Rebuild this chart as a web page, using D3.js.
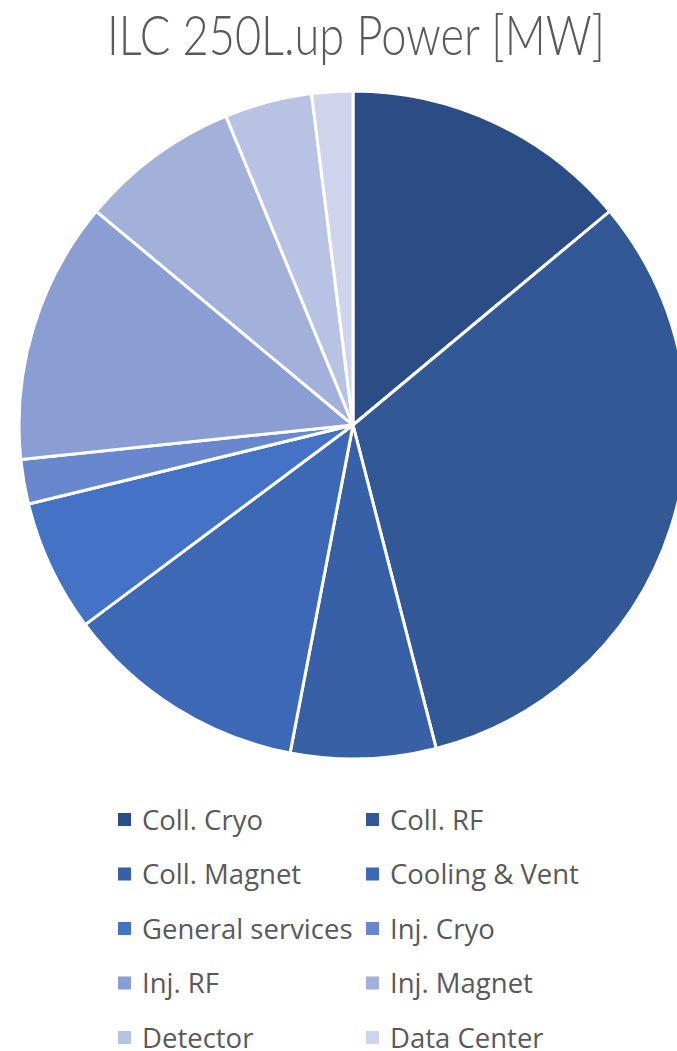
<!DOCTYPE html>
<html>
<head>
<meta charset="utf-8">
<script src="https://cdn.jsdelivr.net/npm/d3@7"></script>
<style>
  html, body { margin: 0; padding: 0; background: #fff; }
  svg { display: block; }
</style>
</head>
<body>
<svg id="chart" width="677" height="1051"></svg>
<script>
// ILC 250 GeV upgrade power budget, in MW
const categories = [
  "Coll. Cryo", "Coll. RF", "Coll. Magnet", "Cooling & Vent", "General services",
  "Inj. Cryo", "Inj. RF", "Inj. Magnet", "Detector", "Data Center"
];
const powerMW = [15.5, 35.6, 7.8, 13.1, 7.1, 2.4, 14.1, 8.6, 4.7, 2.2];
const sliceColors = [
  "#2c4c85", "#335896", "#3760a7", "#3c68b6", "#4472c4",
  "#6887cc", "#8a9ed4", "#a2b0da", "#b8c3e3", "#cdd4ec"
];
const titleText = "ILC 250L.up Power [MW]";

const svg = d3.select("#chart");
const textColor = "#595959";

// Title
svg.append("text")
  .attr("x", 356)
  .attr("y", 55)
  .attr("text-anchor", "middle")
  .attr("font-family", "Lato, 'Open Sans', sans-serif")
  .attr("font-weight", 300)
  .attr("font-size", 56)
  .attr("fill", textColor)
  .attr("textLength", 498)
  .attr("lengthAdjust", "spacingAndGlyphs")
  .text(titleText);

// Pie
const cx = 353, cy = 425, radius = 334;
const data = categories.map((c, i) => ({ name: c, value: powerMW[i] }));
const pie = d3.pie().sort(null).value(d => d.value);
const arc = d3.arc().innerRadius(0).outerRadius(radius);
const color = d3.scaleOrdinal().domain(categories).range(sliceColors);

svg.append("g")
  .attr("transform", `translate(${cx},${cy})`)
  .selectAll("path")
  .data(pie(data))
  .join("path")
  .attr("d", arc)
  .attr("fill", d => color(d.data.name))
  .attr("stroke", "#fff")
  .attr("stroke-width", 3)
  .attr("stroke-linejoin", "round");

// Legend: two columns, five rows
const colX = [118, 366];
const rowY0 = 820, rowStep = 54.5;
const legend = svg.append("g");
const items = legend.selectAll("g")
  .data(categories)
  .join("g")
  .attr("transform", (d, i) => `translate(${colX[i % 2]},${rowY0 + Math.floor(i / 2) * rowStep})`);
items.append("rect")
  .attr("x", 0).attr("y", -7)
  .attr("width", 13).attr("height", 13)
  .attr("fill", d => color(d));
items.append("text")
  .attr("x", 24)
  .attr("y", 9.5)
  .attr("font-family", "'Open Sans', Lato, sans-serif")
  .attr("font-size", 27.5)
  .attr("fill", textColor)
  .text(d => d);
</script>
</body>
</html>
